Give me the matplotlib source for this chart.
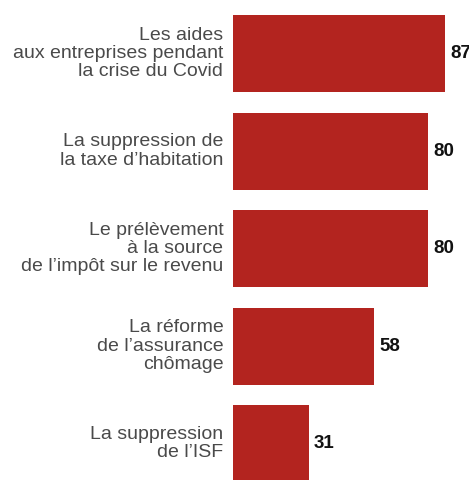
import matplotlib.pyplot as plt

# Share of respondents (%) per reform
labels = [
    "Les aides\naux entreprises pendant\nla crise du Covid",
    "La suppression de\nla taxe d\u2019habitation",
    "Le prélèvement\nà la source\nde l\u2019impôt sur le revenu",
    "La réforme\nde l\u2019assurance\nchômage",
    "La suppression\nde l\u2019ISF",
]
values = [87, 80, 80, 58, 31]

BAR_COLOR = "#b3241f"
LABEL_COLOR = "#4a4a4a"

plt.rcParams["font.family"] = ["Liberation Sans", "DejaVu Sans"]

fig = plt.figure(figsize=(4.69, 4.80), dpi=100)
ax = fig.add_axes([233 / 469, 0, 236 / 469, 1])

pos = list(range(len(values)))
ax.barh(pos, values, height=0.79, color=BAR_COLOR)

for y, v, lab in zip(pos, values, labels):
    ax.text(v + 2.0, y, str(v), ha="left", va="center",
            fontsize=13.5, fontweight="bold", color="#111111")
    ax.annotate(lab, xy=(0, y), xytext=(-7, 0), textcoords="offset points",
                ha="right", va="center", fontsize=14, color=LABEL_COLOR,
                linespacing=1.1, annotation_clip=False)

ax.set_xlim(0, 96.8)
ax.set_ylim(4.374, -0.549)
ax.axis("off")

fig.savefig("out.png", dpi=100, facecolor="white")
